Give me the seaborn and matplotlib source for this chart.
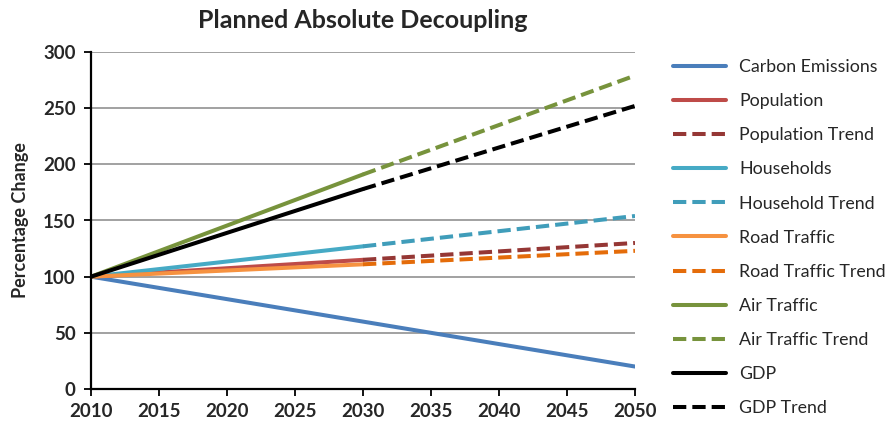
import matplotlib
matplotlib.use("Agg")
import matplotlib.pyplot as plt
import seaborn as sns
import pandas as pd

# ---- data ----
years_full = [2010, 2050]
years_actual = [2010, 2030]
years_trend = [2030, 2050]

carbon_emissions = [100, 20]
population = [100, 115]
population_trend = [115, 130]
households = [100, 127]
household_trend = [127, 154]
road_traffic = [100, 111]
road_traffic_trend = [111, 123]
air_traffic = [100, 191]
air_traffic_trend = [191, 279]
gdp = [100, 178]
gdp_trend = [178, 252]

x_ticks = [2010, 2015, 2020, 2025, 2030, 2035, 2040, 2045, 2050]
y_ticks = [0, 50, 100, 150, 200, 250, 300]

series = [
    ("Carbon Emissions", years_full, carbon_emissions, "#4A7EBB", False),
    ("Population", years_actual, population, "#BE4B48", False),
    ("Population Trend", years_trend, population_trend, "#953735", True),
    ("Households", years_actual, households, "#46AAC5", False),
    ("Household Trend", years_trend, household_trend, "#409DBA", True),
    ("Road Traffic", years_actual, road_traffic, "#F69240", False),
    ("Road Traffic Trend", years_trend, road_traffic_trend, "#E46C0A", True),
    ("Air Traffic", years_actual, air_traffic, "#77933C", False),
    ("Air Traffic Trend", years_trend, air_traffic_trend, "#77933C", True),
    ("GDP", years_actual, gdp, "#000000", False),
    ("GDP Trend", years_trend, gdp_trend, "#000000", True),
]

sns.set_theme(style="white")
plt.rcParams["font.family"] = ["Lato", "DejaVu Sans"]

fig = plt.figure(figsize=(8.88, 4.23), dpi=100)
ax = fig.add_axes([91 / 888, 1 - 389 / 423, (635 - 91) / 888, (389 - 52) / 423])

for name, xs, ys, color, dashed in series:
    df = pd.DataFrame({"Year": xs, "Value": ys})
    sns.lineplot(data=df, x="Year", y="Value", ax=ax, color=color, linewidth=2.9,
                 label=name, legend=False)
    line = ax.lines[-1]
    if dashed:
        line.set_dashes((3.3, 1.5))
        line.set_dash_capstyle("butt")
    else:
        line.set_solid_capstyle("round")

ax.set_xlim(2010, 2050)
ax.set_ylim(0, 300)
ax.set_xticks(x_ticks)
ax.set_yticks(y_ticks)
ax.set_xticklabels([str(v) for v in x_ticks], fontsize=13.5, fontweight="bold")
ax.set_yticklabels([str(v) for v in y_ticks], fontsize=13.5, fontweight="bold")
ax.set_xlabel("")
ax.set_ylabel("Percentage Change", fontsize=13, fontweight="bold", labelpad=10)
ax.set_title("Planned Absolute Decoupling", fontsize=18, fontweight="bold", pad=17)

for v in y_ticks[1:]:
    ax.axhline(v, color="#9a9a9a", linewidth=1.3, zorder=0)

for side in ["top", "right"]:
    ax.spines[side].set_visible(False)
for side in ["left", "bottom"]:
    ax.spines[side].set_color("black")
    ax.spines[side].set_linewidth(1.6)
ax.tick_params(axis="both", direction="out", length=5, width=1.3, color="black",
               bottom=True, left=True)
ax.tick_params(axis="x", pad=5)
ax.tick_params(axis="y", pad=6)

handles = ax.lines[:len(series)]
labels = [s[0] for s in series]
fig.legend(handles, labels, loc="upper left", bbox_to_anchor=(673 / 888, 1 - 59 / 423),
           frameon=False, fontsize=12.8, handlelength=3.0, handletextpad=0.72,
           labelspacing=1.02, borderpad=0, borderaxespad=0)

fig.savefig("out.png", dpi=100)
